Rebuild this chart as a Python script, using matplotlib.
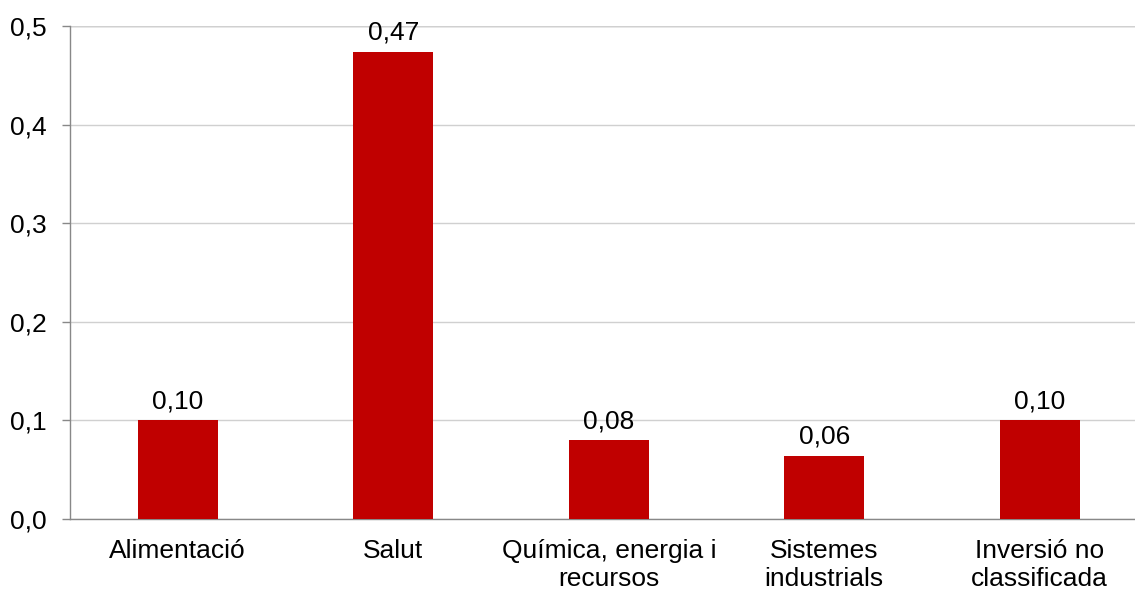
import matplotlib
matplotlib.use("Agg")
import matplotlib.pyplot as plt
from matplotlib.ticker import FuncFormatter

categories = ["Alimentació", "Salut", "Química, energia i\nrecursos", "Sistemes\nindustrials", "Inversió no\nclassificada"]
values = [0.10, 0.474, 0.08, 0.064, 0.10]
yticks = [0.0, 0.1, 0.2, 0.3, 0.4, 0.5]

plt.rcParams['font.family'] = ['Liberation Sans', 'DejaVu Sans']

W, H = 1135, 590
FS = 19
fig = plt.figure(figsize=(W/100, H/100), dpi=100)
left, right, bottom, top = 70, 1147.5, 519, 26
ax = fig.add_axes([left/W, (H-bottom)/H, (right-left)/W, (bottom-top)/H])

x = list(range(len(categories)))
ax.bar(x, values, width=0.37, color="#C00000", zorder=3)
for xi, v in zip(x, values):
    ax.annotate(f"{v:.2f}".replace(".", ","), (xi, v), xytext=(0, 5), textcoords="offset points",
                ha="center", va="bottom", fontsize=FS)

ax.set_xlim(-0.5, len(categories) - 0.5)
ax.set_ylim(0, 0.5)
ax.set_yticks(yticks)
ax.yaxis.set_major_formatter(FuncFormatter(lambda v, p: f"{v:.1f}".replace(".", ",")))
ax.set_xticks(x)
ax.set_xticklabels(categories, fontsize=FS, linespacing=1.22)
ax.tick_params(axis="x", length=0, pad=14.5)
ax.tick_params(axis="y", length=6, width=1, color="#888888", labelsize=FS, pad=11)
ax.grid(axis="y", color="#d0d0d0", linewidth=1, zorder=0)
ax.axhline(0.5, color="#a8a8a8", linewidth=1, zorder=1)
for s in ["top", "right"]:
    ax.spines[s].set_visible(False)
for s in ["left", "bottom"]:
    ax.spines[s].set_color("#888888")
    ax.spines[s].set_linewidth(1)

fig.savefig("out.png", dpi=100)
